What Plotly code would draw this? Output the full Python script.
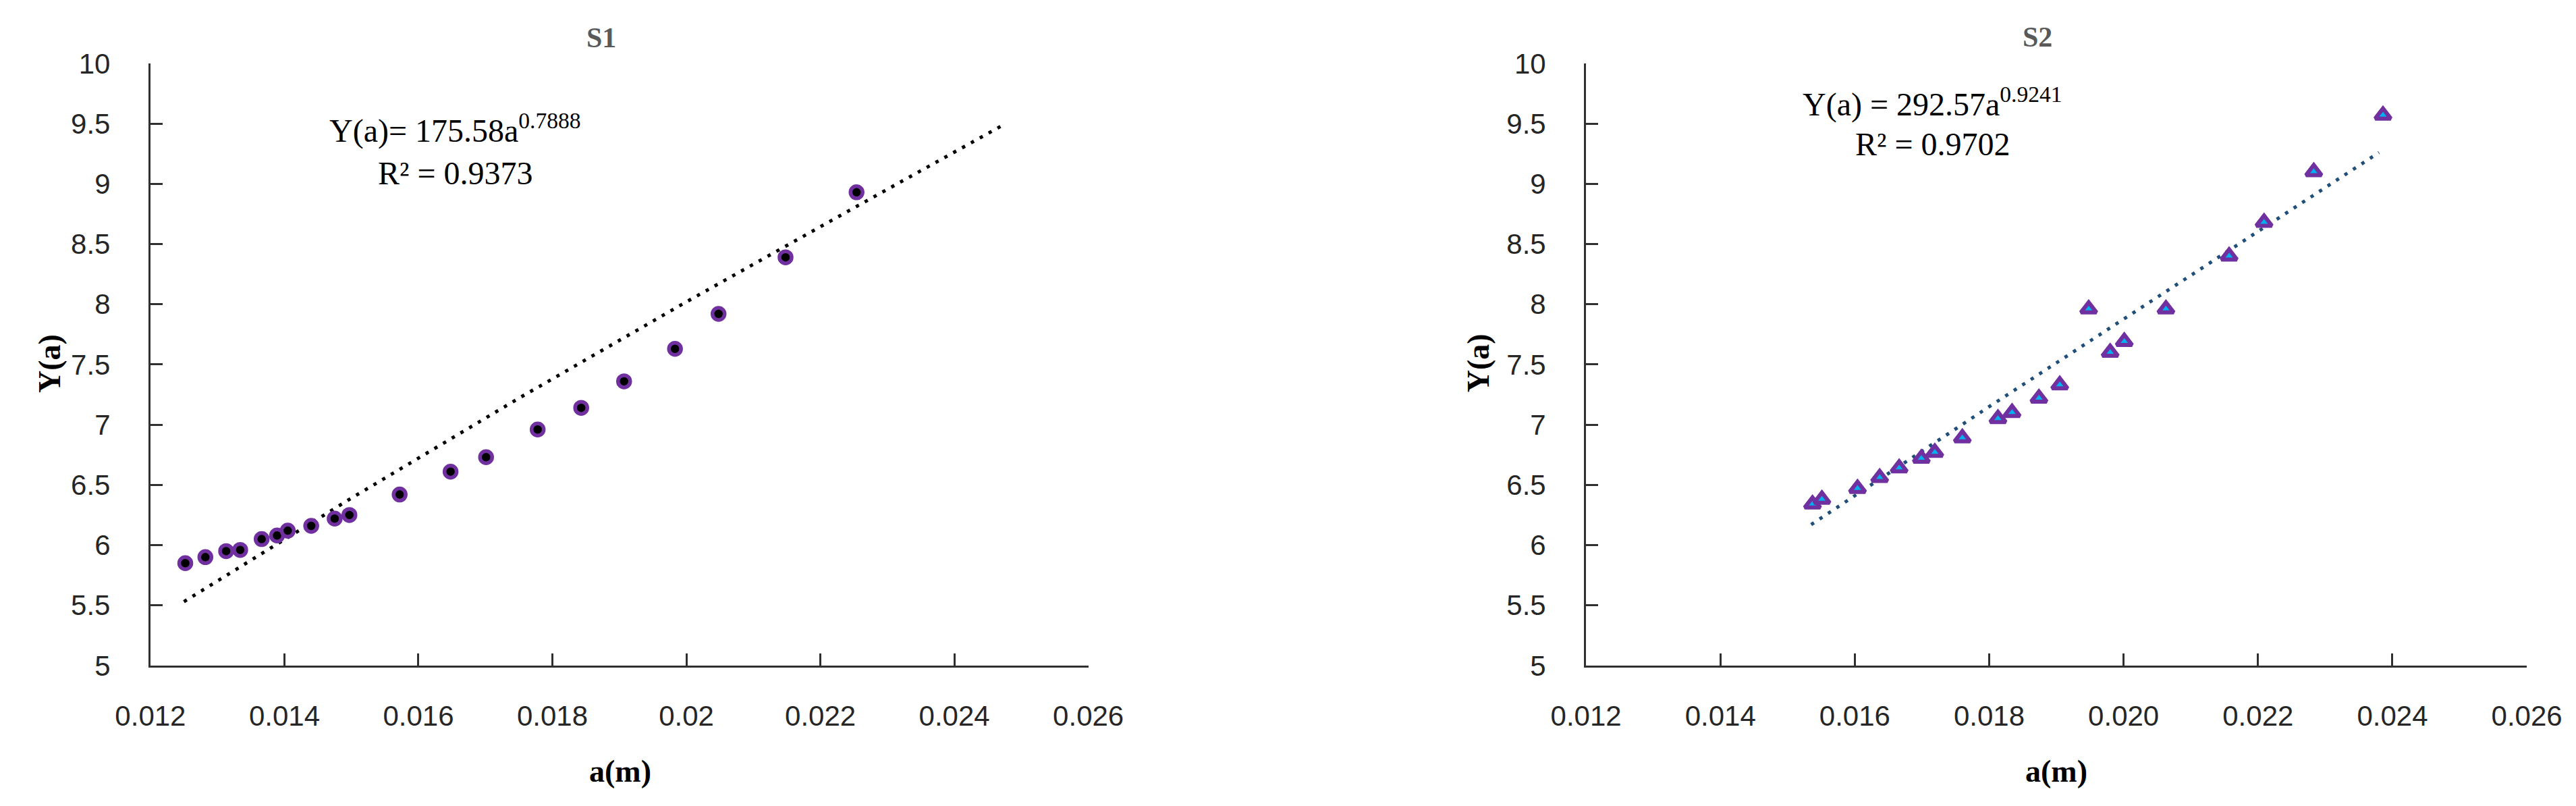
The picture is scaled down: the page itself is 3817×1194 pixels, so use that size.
import plotly.graph_objects as go

# S1 data (circles)
s1_a = [0.01252, 0.01282, 0.01313, 0.01334, 0.01366, 0.01389, 0.01405, 0.01440,
        0.01475, 0.01497, 0.01572, 0.01648, 0.01701, 0.01778, 0.01843, 0.01907,
        0.01983, 0.02048, 0.02148, 0.02254]
s1_y = [5.85, 5.90, 5.95, 5.96, 6.05, 6.08, 6.12, 6.16, 6.22, 6.25, 6.42, 6.61,
        6.73, 6.96, 7.14, 7.36, 7.63, 7.92, 8.39, 8.93]
# power trendline of S1
s1_fit_a = [0.0125, 0.0150, 0.0175, 0.0200, 0.0225, 0.0247]
s1_fit_y = [5.53, 6.39, 7.22, 8.02, 8.80, 9.48]

# S2 data (triangles)
s2_a = [0.01537, 0.01551, 0.01604, 0.01637, 0.01666, 0.01699, 0.01719, 0.01760,
        0.01813, 0.01834, 0.01874, 0.01905, 0.01948, 0.01980, 0.02001, 0.02063,
        0.02157, 0.02209, 0.02283, 0.02386]
s2_y = [6.34, 6.38, 6.47, 6.56, 6.64, 6.72, 6.77, 6.89, 7.05, 7.10, 7.22, 7.33,
        7.96, 7.60, 7.69, 7.96, 8.40, 8.68, 9.10, 9.57]
s2_fit_a = [0.01535, 0.0180, 0.0210, 0.0238]
s2_fit_y = [6.17, 7.15, 8.24, 9.26]

x_ticks = [0.012, 0.014, 0.016, 0.018, 0.020, 0.022, 0.024, 0.026]
x_text_s1 = ['0.012', '0.014', '0.016', '0.018', '0.02', '0.022', '0.024', '0.026']
x_text_s2 = ['0.012', '0.014', '0.016', '0.018', '0.020', '0.022', '0.024', '0.026']
y_ticks = [5, 5.5, 6, 6.5, 7, 7.5, 8, 8.5, 9, 9.5, 10]
y_text = ['5', '5.5', '6', '6.5', '7', '7.5', '8', '8.5', '9', '9.5', '10']

PURPLE = '#7030A0'
AXIS = '#303030'
TICKFONT = dict(family='Liberation Sans', size=42, color='#262626')
SERIF = 'Liberation Serif'

fig = go.Figure()

fig.add_trace(go.Scatter(
    x=s1_fit_a, y=s1_fit_y, mode='lines', xaxis='x', yaxis='y',
    line=dict(color='black', width=5, dash='5px,10px'), hoverinfo='skip'
))
fig.add_trace(go.Scatter(
    x=s1_a, y=s1_y, mode='markers', xaxis='x', yaxis='y',
    marker=dict(symbol='circle', size=18, color='black',
                line=dict(color=PURPLE, width=5.5))
))

fig.add_trace(go.Scatter(
    x=s2_fit_a, y=s2_fit_y, mode='lines', xaxis='x2', yaxis='y2',
    line=dict(color='#1F4E79', width=5, dash='5px,10px'), hoverinfo='skip'
))
fig.add_trace(go.Scatter(
    x=s2_a, y=s2_y, mode='markers', xaxis='x2', yaxis='y2',
    marker=dict(symbol='triangle-up', size=20, color='#00B0F0',
                line=dict(color=PURPLE, width=6))
))

axis_common = dict(
    showline=True, linecolor=AXIS, linewidth=3,
    ticks='inside', ticklen=18, tickwidth=3, tickcolor=AXIS,
    showgrid=False, zeroline=False, tickfont=TICKFONT,
    automargin=False,
)

fig.update_layout(
    width=3817, height=1194,
    margin=dict(l=0, r=0, t=0, b=0, pad=0),
    paper_bgcolor='white', plot_bgcolor='white',
    showlegend=False,
    xaxis=dict(domain=[0.0563, 0.4204], range=[0.012, 0.026], anchor='y',
               tickvals=x_ticks, ticktext=x_text_s1, ticklabelstandoff=36, **axis_common),
    yaxis=dict(domain=[0.181, 0.928], range=[5, 10], anchor='x',
               tickvals=y_ticks, ticktext=y_text, ticklabelstandoff=48, **axis_common),
    xaxis2=dict(domain=[0.6136, 0.9788], range=[0.012, 0.026], anchor='y2',
                tickvals=x_ticks, ticktext=x_text_s2, ticklabelstandoff=36, **axis_common),
    yaxis2=dict(domain=[0.181, 0.928], range=[5, 10], anchor='x2',
                tickvals=y_ticks, ticktext=y_text, ticklabelstandoff=48, **axis_common),
)

# titles and axis titles
labels = [
    dict(x=0.2313, y=0.960, text='<b>S1</b>', font=dict(family=SERIF, size=42, color='#595959')),
    dict(x=0.7888, y=0.961, text='<b>S2</b>', font=dict(family=SERIF, size=42, color='#595959')),
    dict(x=0.2387, y=0.050, text='<b>a(m)</b>', font=dict(family=SERIF, size=46, color='black')),
    dict(x=0.7962, y=0.050, text='<b>a(m)</b>', font=dict(family=SERIF, size=46, color='black')),
    dict(x=0.0170, y=0.556, text='<b>Y(a)</b>', textangle=-90, font=dict(family=SERIF, size=46, color='black')),
    dict(x=0.5717, y=0.556, text='<b>Y(a)</b>', textangle=-90, font=dict(family=SERIF, size=46, color='black')),
]
for lab in labels:
    fig.add_annotation(xref='paper', yref='paper', showarrow=False,
                       xanchor='center', yanchor='middle', **lab)

# fitted equations, one line per annotation
EQFONT = dict(family=SERIF, size=48, color='black')
fig.add_annotation(x=0.01655, y=9.46, xref='x', yref='y', showarrow=False,
                   text='Y(a)= 175.58a<sup>0.7888</sup>', font=EQFONT)
fig.add_annotation(x=0.01655, y=9.09, xref='x', yref='y', showarrow=False,
                   text='R² = 0.9373', font=EQFONT)
fig.add_annotation(x=0.01716, y=9.68, xref='x2', yref='y2', showarrow=False,
                   text='Y(a) = 292.57a<sup>0.9241</sup>', font=EQFONT)
fig.add_annotation(x=0.01716, y=9.33, xref='x2', yref='y2', showarrow=False,
                   text='R² = 0.9702', font=EQFONT)

fig.write_html("out.html")
